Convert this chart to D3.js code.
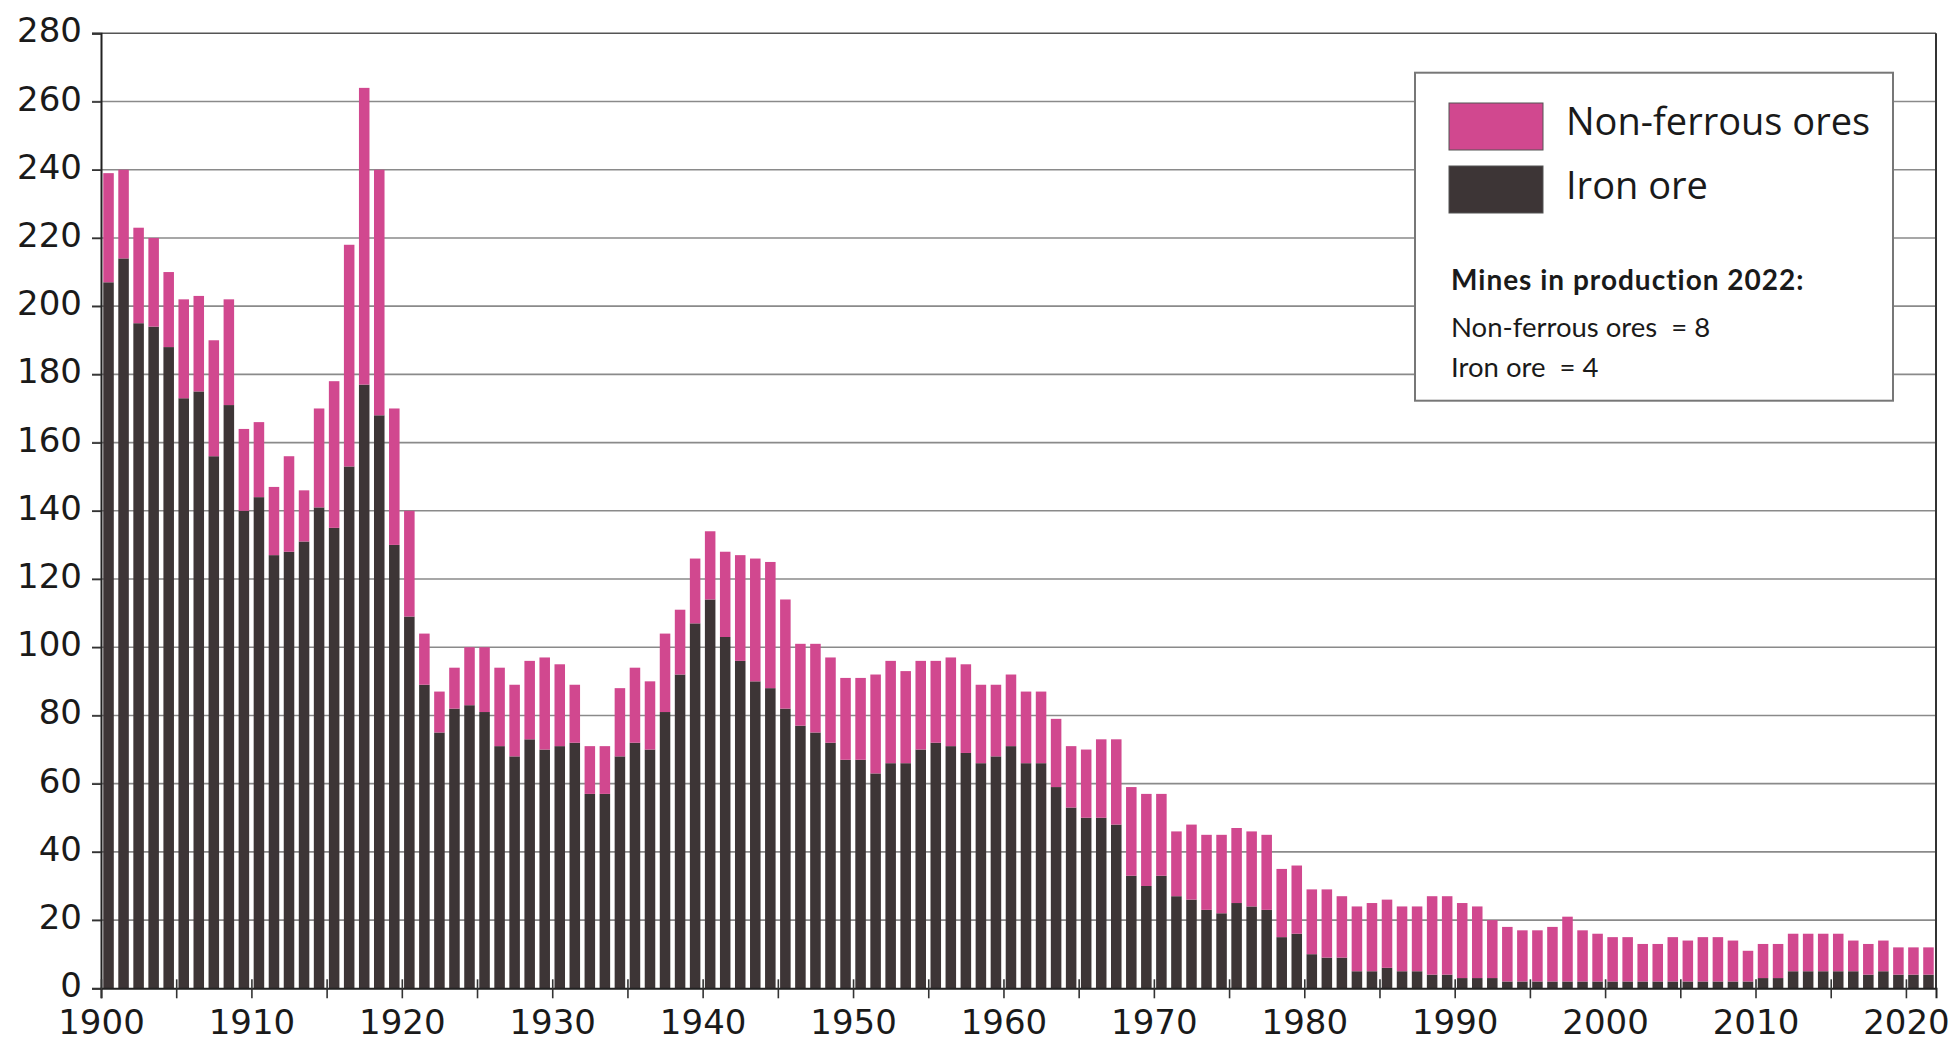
<!DOCTYPE html>
<html>
<head>
<meta charset="utf-8">
<script src="https://cdn.jsdelivr.net/npm/d3@7"></script>
<style>
  body { margin: 0; background: #fff; }
  svg { display: block; }
</style>
</head>
<body>
<script>
// Years on the axis (one bar per year, last bar = 2022)
var years = d3.range(1901, 2023);

// Iron ore mines in production
var ironOre = [207,214,195,194,188,173,175,156,171,140,
               144,127,128,131,141,135,153,177,168,130,
               109,89,75,82,83,81,71,68,73,70,
               71,72,57,57,68,72,70,81,92,107,
               114,103,96,90,88,82,77,75,72,67,
               67,63,66,66,70,72,71,69,66,68,
               71,66,66,59,53,50,50,48,33,30,
               33,27,26,23,22,25,24,23,15,16,
               10,9,9,5,5,6,5,5,4,4,
               3,3,3,2,2,2,2,2,2,2,
               2,2,2,2,2,2,2,2,2,2,
               3,3,5,5,5,5,5,4,5,4,
               4,4];

// Non-ferrous ore mines in production
var nonFerrous = [32,26,28,26,22,29,28,34,31,24,
                  22,20,28,15,29,43,65,87,72,40,
                  31,15,12,12,17,19,23,21,23,27,
                  24,17,14,14,20,22,20,23,19,19,
                  20,25,31,36,37,32,24,26,25,24,
                  24,29,30,27,26,24,26,26,23,21,
                  21,21,21,20,18,20,23,25,26,27,
                  24,19,22,22,23,22,22,22,20,20,
                  19,20,18,19,20,20,19,19,23,23,
                  22,21,17,16,15,15,16,19,15,14,
                  13,13,11,11,13,12,13,13,12,9,
                  10,10,11,11,11,11,9,9,9,8,
                  8,8];

var yTicks = [0,20,40,60,80,100,120,140,160,180,200,220,240,260,280];
var xLabelYears = [1900,1910,1920,1930,1940,1950,1960,1970,1980,1990,2000,2010,2020];

var seriesKeys = ["iron", "nonFerrous"];
var seriesNames = {iron: "Iron ore", nonFerrous: "Non-ferrous ores"};
var colours = {iron: "#3d3536", nonFerrous: "#d1488f"};

function init(){
    var W = 1951;
    var H = 1044;
    var margin = {top: 33.3, right: 15, bottom: 55.7, left: 101};

    var svg = d3.select("body")
                .append("svg")
                .attr("width", W)
                .attr("height", H);

    // rows for the stack
    var rows = years.map(function(y, i){
        return {year: y, iron: ironOre[i], nonFerrous: nonFerrous[i]};
    });

    var stacked = d3.stack().keys(seriesKeys)(rows);

    // band scale for the bars, linear one for the ticks on the band edges
    var xBand = d3.scaleBand()
                  .domain(years)
                  .range([margin.left, W - margin.right])
                  .paddingInner(0.3)
                  .paddingOuter(0.15);

    var xEdge = d3.scaleLinear()
                  .domain([years[0] - 1, years[years.length - 1]])
                  .range([margin.left, W - margin.right]);

    var y = d3.scaleLinear()
              .domain([0, 280])
              .range([H - margin.bottom, margin.top]);

    // gridlines
    svg.append("g")
       .selectAll("line")
       .data(yTicks.filter(function(d){ return d > 0; }))
       .enter()
       .append("line")
       .attr("x1", margin.left - 9)
       .attr("x2", W - margin.right)
       .attr("y1", function(d){ return y(d); })
       .attr("y2", function(d){ return y(d); })
       .attr("stroke", function(d){ return d == 280 ? "#555" : "#8a8a8a"; })
       .attr("stroke-width", 1.6);

    // bars
    svg.append("g")
       .selectAll("g")
       .data(stacked)
       .enter()
       .append("g")
       .attr("fill", function(d){ return colours[d.key]; })
       .selectAll("rect")
       .data(function(d){ return d; })
       .enter()
       .append("rect")
       .attr("x", function(d){ return xBand(d.data.year); })
       .attr("width", xBand.bandwidth())
       .attr("y", function(d){ return y(d[1]); })
       .attr("height", function(d){ return y(d[0]) - y(d[1]); });

    // right frame line
    svg.append("line")
       .attr("x1", W - margin.right)
       .attr("x2", W - margin.right)
       .attr("y1", y(280))
       .attr("y2", y(0))
       .attr("stroke", "#333")
       .attr("stroke-width", 2);

    // y axis
    var yAxis = svg.append("g")
       .attr("transform", "translate(" + margin.left + ",0)")
       .call(d3.axisLeft(y).tickValues(yTicks).tickSize(9).tickPadding(10));
    yAxis.select(".domain").attr("stroke", "#222").attr("stroke-width", 2);
    yAxis.selectAll(".tick line").attr("stroke", "#333").attr("stroke-width", 1.6);
    yAxis.selectAll("text")
         .attr("dy", "0.25em")
         .style("font-family", "'DejaVu Sans', sans-serif")
         .style("font-size", "34px")
         .attr("fill", "#1a1a1a");

    // x axis: ticks every 5 years, labels every 10
    var xAxis = svg.append("g")
       .attr("transform", "translate(0," + y(0) + ")")
       .call(d3.axisBottom(xEdge)
               .tickValues(d3.range(1900, 2021, 5))
               .tickSize(10)
               .tickFormat(function(d){ return xLabelYears.indexOf(d) >= 0 ? d : ""; }));
    xAxis.select(".domain").attr("stroke", "#222").attr("stroke-width", 2);
    xAxis.selectAll(".tick line")
         .attr("y1", -9)
         .attr("stroke", "#333")
         .attr("stroke-width", 1.6);
    xAxis.selectAll("text")
         .attr("y", 46)
         .attr("dy", null)
         .style("font-family", "'DejaVu Sans', sans-serif")
         .style("font-size", "34px")
         .attr("fill", "#1a1a1a");

    // legend
    var lg = svg.append("g");
    lg.append("rect")
      .attr("x", 1415).attr("y", 72.7)
      .attr("width", 478).attr("height", 328)
      .attr("fill", "#fff")
      .attr("stroke", "#777")
      .attr("stroke-width", 2);

    var legendItems = ["nonFerrous", "iron"];
    legendItems.forEach(function(k, i){
        lg.append("rect")
          .attr("x", 1449).attr("y", 103 + i * 63)
          .attr("width", 94).attr("height", 47)
          .attr("fill", colours[k])
          .attr("stroke", "#555")
          .attr("stroke-width", 1);
        lg.append("text")
          .attr("x", 1566).attr("y", 135 + i * 64)
          .style("font-family", "'Open Sans', sans-serif")
          .style("font-size", "38px")
          .attr("fill", "#1a1a1a")
          .text(seriesNames[k]);
    });

    lg.append("text")
      .attr("x", 1451).attr("y", 290)
      .style("font-family", "Lato, sans-serif")
      .style("font-size", "28px")
      .style("font-weight", "bold")
      .style("letter-spacing", "1px")
      .attr("fill", "#1a1a1a")
      .text("Mines in production 2022:");

    var counts = [["Non-ferrous ores", nonFerrous[nonFerrous.length - 1]],
                  ["Iron ore", ironOre[ironOre.length - 1]]];
    counts.forEach(function(c, i){
        lg.append("text")
          .attr("x", 1451).attr("y", 337 + i * 40)
          .style("font-family", "Lato, sans-serif")
          .style("font-size", "27.5px")
          .style("white-space", "pre")
          .attr("fill", "#1a1a1a")
          .text(c[0] + "  = " + c[1]);
    });
}
window.onload = init;
</script>
</body>
</html>
